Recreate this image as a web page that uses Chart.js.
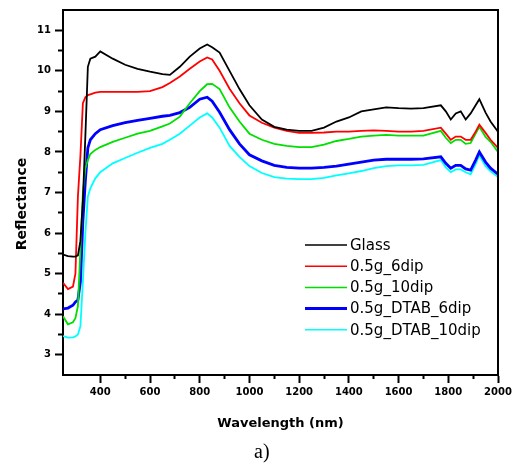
<!DOCTYPE html>
<html>
<head>
<meta charset="utf-8">
<script src="https://cdn.jsdelivr.net/npm/chart.js@4"></script>
<style>
    body { margin: 0; background: #fff; }
    #wrap { position: relative; width: 518px; height: 466px; }
    #caption { position: absolute; left: 254px; top: 440px; font: 20px 'Liberation Serif', serif; color: #000; }
</style>
</head>
<body>
<div id="wrap">
    <canvas id="myChart" width="518" height="466"></canvas>
    <div id="caption">a)</div>
</div>
<script>
// wavelength grid (nm)
const wavelengths = [250, 270, 290, 300, 310, 320, 330, 340, 350, 360,
    380, 400, 450, 500, 550, 600, 650, 680, 720, 760,
    800, 830, 850, 880, 920, 960, 1000, 1050, 1100, 1150,
    1200, 1250, 1300, 1350, 1400, 1450, 1500, 1550, 1600, 1650,
    1700, 1770, 1790, 1810, 1830, 1850, 1870, 1890, 1910, 1925,
    1950, 1970, 2000];

// reflectance values per sample
const glass = [5.47, 5.43, 5.42, 5.42, 5.45, 5.8, 6.8, 8.4, 10.1, 10.3,
    10.35, 10.48, 10.3, 10.15, 10.05, 9.98, 9.92, 9.9, 10.1, 10.35,
    10.55, 10.65, 10.58, 10.45, 10.0, 9.55, 9.15, 8.8, 8.62, 8.55,
    8.52, 8.52, 8.6, 8.75, 8.85, 9.0, 9.05, 9.1, 9.08, 9.07,
    9.08, 9.15, 9.0, 8.8, 8.95, 9.0, 8.8, 8.95, 9.15, 9.3,
    8.97, 8.75, 8.5];
const dip6 = [4.77, 4.62, 4.68, 5.0, 6.9, 7.9, 9.2, 9.35, 9.4, 9.42,
    9.46, 9.48, 9.48, 9.48, 9.48, 9.5, 9.6, 9.7, 9.86, 10.05,
    10.23, 10.33, 10.28, 10.0, 9.56, 9.2, 8.9, 8.72, 8.6, 8.52,
    8.47, 8.47, 8.48, 8.5, 8.5, 8.52, 8.53, 8.52, 8.5, 8.5,
    8.52, 8.6, 8.45, 8.3, 8.38, 8.38, 8.3, 8.3, 8.5, 8.67,
    8.47, 8.3, 8.1];
const dip10 = [3.95, 3.75, 3.8, 3.9, 4.2, 5.6, 7.0, 7.6, 7.8, 7.95,
    8.05, 8.12, 8.25, 8.35, 8.45, 8.52, 8.63, 8.7, 8.87, 9.2,
    9.5, 9.67, 9.68, 9.55, 9.1, 8.75, 8.45, 8.3, 8.2, 8.15,
    8.12, 8.12, 8.18, 8.27, 8.32, 8.38, 8.4, 8.42, 8.4, 8.4,
    8.4, 8.52, 8.35, 8.22, 8.3, 8.3, 8.2, 8.22, 8.45, 8.62,
    8.37, 8.25, 8.0];
const dtab6 = [4.13, 4.15, 4.22, 4.3, 4.35, 4.8, 6.3, 7.3, 8.1, 8.3,
    8.45, 8.55, 8.65, 8.72, 8.78, 8.83, 8.88, 8.9, 8.97, 9.1,
    9.3, 9.35, 9.25, 8.98, 8.55, 8.2, 7.93, 7.78, 7.67, 7.62,
    7.6, 7.6, 7.62, 7.65, 7.7, 7.75, 7.8, 7.82, 7.82, 7.82,
    7.83, 7.88, 7.72, 7.6, 7.67, 7.67, 7.58, 7.55, 7.8, 8.0,
    7.75, 7.6, 7.45];
const dtab10 = [3.46, 3.42, 3.43, 3.45, 3.5, 3.7, 4.8, 6.0, 6.9, 7.1,
    7.35, 7.5, 7.72, 7.85, 7.98, 8.1, 8.2, 8.3, 8.45, 8.65,
    8.85, 8.95, 8.85, 8.6, 8.15, 7.88, 7.65, 7.48, 7.38, 7.34,
    7.33, 7.33, 7.36, 7.42, 7.47, 7.53, 7.6, 7.65, 7.67, 7.67,
    7.68, 7.8, 7.62, 7.5, 7.57, 7.57, 7.5, 7.45, 7.7, 7.92,
    7.65, 7.52, 7.38];

const seriesLabels = ['Glass', '0.5g_6dip', '0.5g_10dip', '0.5g_DTAB_6dip', '0.5g_DTAB_10dip'];
const seriesValues = [glass, dip6, dip10, dtab6, dtab10];
const seriesColors = ['#000000', '#ff0000', '#00e000', '#0000ff', '#00ffff'];
const seriesWidths = [1.8, 1.8, 1.8, 2.8, 1.8];

const xTitle = 'Wavelength (nm)';
const yTitle = 'Reflectance';

const tickFont = { family: 'DejaVu Sans', size: 10, weight: 'bold' };

// top and right frame lines
const framePlugin = {
    id: 'frame',
    afterDatasetsDraw(chart) {
        const { ctx, chartArea: a } = chart;
        ctx.save();
        ctx.strokeStyle = '#000';
        ctx.lineWidth = 2;
        ctx.beginPath();
        ctx.moveTo(a.left - 1, a.top);
        ctx.lineTo(a.right, a.top);
        ctx.lineTo(a.right, a.bottom + 1);
        ctx.stroke();
        ctx.restore();
    }
};

// rotated y title, a little below the axis middle like the original
const yTitlePlugin = {
    id: 'yTitle',
    afterDraw(chart) {
        const { ctx } = chart;
        ctx.save();
        ctx.translate(22, 204);
        ctx.rotate(-Math.PI / 2);
        ctx.font = 'bold 14px "DejaVu Sans"';
        ctx.fillStyle = '#000';
        ctx.textAlign = 'center';
        ctx.textBaseline = 'middle';
        ctx.fillText(yTitle, 0, 0);
        ctx.restore();
    }
};

// legend drawn inside the plot, lower right
const legendPlugin = {
    id: 'insideLegend',
    afterDraw(chart) {
        const { ctx } = chart;
        ctx.save();
        ctx.font = '15px "DejaVu Sans"';
        ctx.textBaseline = 'middle';
        chart.data.datasets.forEach((ds, i) => {
            const y = 245 + i * 21.2;
            ctx.strokeStyle = ds.borderColor;
            ctx.lineWidth = i === 3 ? 3 : 1.5;
            ctx.beginPath();
            ctx.moveTo(305, y);
            ctx.lineTo(347, y);
            ctx.stroke();
            ctx.fillStyle = '#000';
            ctx.fillText(ds.label, 350, y + 1);
        });
        ctx.restore();
    }
};

const datasets = seriesLabels.map((label, k) => ({
    label: label,
    data: wavelengths.map((w, i) => ({ x: w, y: seriesValues[k][i] })),
    borderColor: seriesColors[k],
    borderWidth: seriesWidths[k],
    pointRadius: 0,
    tension: 0,
    fill: false
}));

const config = {
    type: 'line',
    data: { datasets: datasets },
    options: {
        responsive: false,
        animation: false,
        layout: { padding: { left: 0, top: 10, right: 20, bottom: 35 } },
        plugins: {
            legend: { display: false },
            tooltip: { enabled: false }
        },
        scales: {
            x: {
                type: 'linear',
                min: 250,
                max: 2000,
                afterFit: (scale) => { scale.height = 56; },
                afterBuildTicks: (scale) => {
                    scale.ticks = scale.ticks.filter(t => t.value % 100 === 0);
                },
                border: { color: '#000', width: 2 },
                grid: {
                    drawOnChartArea: false,
                    tickLength: 8,
                    tickColor: '#000',
                    tickWidth: 2,
                    // minor ticks (odd hundreds) drawn short
                    tickBorderDash: (ctx) => (ctx.tick && ctx.tick.value % 200 !== 0) ? [3, 50] : []
                },
                ticks: {
                    stepSize: 100,
                    autoSkip: false,
                    maxRotation: 0,
                    padding: 3,
                    color: '#000',
                    font: tickFont,
                    callback: (v) => v % 200 === 0 ? v : ''
                },
                title: {
                    display: true,
                    text: xTitle,
                    color: '#000',
                    font: { family: 'DejaVu Sans', size: 13, weight: 'bold' },
                    padding: { top: 0, bottom: 0 }
                }
            },
            y: {
                min: 2.5,
                max: 11.5,
                afterFit: (scale) => { scale.width = 63; },
                afterBuildTicks: (scale) => {
                    scale.ticks = scale.ticks.filter(t => t.value > 2.6 && t.value < 11.4);
                },
                border: { color: '#000', width: 2 },
                grid: {
                    drawOnChartArea: false,
                    tickLength: 8,
                    tickColor: '#000',
                    tickWidth: 2,
                    tickBorderDash: (ctx) => (ctx.tick && !Number.isInteger(ctx.tick.value)) ? [0, 3, 5, 50] : []
                },
                ticks: {
                    stepSize: 0.5,
                    autoSkip: false,
                    padding: 4,
                    color: '#000',
                    font: tickFont,
                    callback: (v) => Number.isInteger(v) ? v : ''
                }
            }
        }
    },
    plugins: [framePlugin, yTitlePlugin, legendPlugin]
};

const myChart = new Chart(document.getElementById('myChart'), config);
</script>
</body>
</html>
